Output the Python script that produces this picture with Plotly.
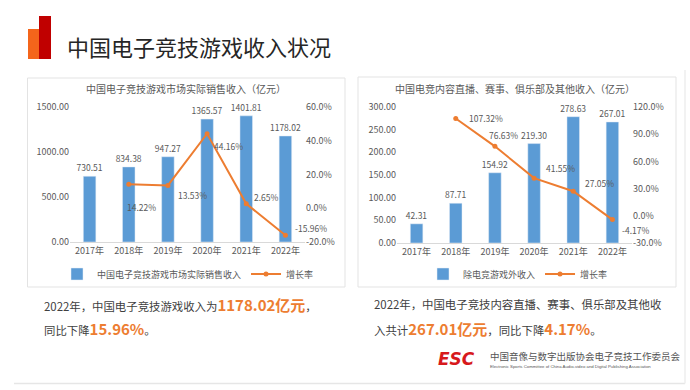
import plotly.graph_objects as go

W, H = 690, 390

# ---------------- data ----------------
years = ["2017年", "2018年", "2019年", "2020年", "2021年", "2022年"]
sales = [730.51, 834.38, 947.27, 1365.57, 1401.81, 1178.02]
sales_growth = [None, 14.22, 13.53, 44.16, 2.65, -15.96]
other = [42.31, 87.71, 154.92, 219.30, 278.63, 267.01]
other_growth = [None, 107.32, 76.63, 41.55, 27.05, -4.17]

left_ticks = [0, 500, 1000, 1500]
left_pct_ticks = [-20, 0, 20, 40, 60]
right_ticks = [0, 50, 100, 150, 200, 250, 300]
right_pct_ticks = [-30, 0, 30, 60, 90, 120]

title_main = "中国电子竞技游戏收入状况"
title_left = "中国电子竞技游戏市场实际销售收入（亿元）"
title_right = "中国电竞内容直播、赛事、俱乐部及其他收入（亿元）"
name_sales = "中国电子竞技游戏市场实际销售收入"
name_other = "除电竞游戏外收入"
name_growth = "增长率"

# ---------------- style ----------------
BLUE = "#5B9BD5"
ORANGE = "#ED7D31"
GRAY = "#595959"
TXT = "#404040"
FONT = "Noto Sans CJK SC"

def px(x):
    return x / W

def py(y):
    return 1 - y / H

def pct(v):
    return f"{v:.1f}%"

# label offsets (xshift, yshift, xanchor) for growth labels
left_offsets = [None, (13, -23, "center"), (8, -10, "left"), (5, -12, "left"), (6, 7, "left"), (8, 7, "left")]
right_offsets = [None, (11, 1, "left"), (-8, 11, "left"), (10, 10, "left"), (10, 8, "left"), (8, -10, "left")]

fig = go.Figure()

fig.add_trace(go.Bar(
    x=years, y=sales, name=name_sales, marker_color=BLUE, width=0.32,
    text=[f"{v:.2f}" for v in sales], textposition="outside", cliponaxis=False,
    constraintext="none",
    textfont=dict(size=8.5, color=GRAY, family=FONT),
    xaxis="x", yaxis="y", legend="legend",
))
fig.add_trace(go.Scatter(
    x=years, y=sales_growth, name=name_growth, mode="lines+markers",
    line=dict(color=ORANGE, width=2), marker=dict(color=ORANGE, size=5),
    xaxis="x", yaxis="y2", legend="legend", cliponaxis=False,
))
fig.add_trace(go.Bar(
    x=years, y=other, name=name_other, marker_color=BLUE, width=0.32,
    text=[f"{v:.2f}" for v in other], textposition="outside", cliponaxis=False,
    constraintext="none",
    textfont=dict(size=8.5, color=GRAY, family=FONT),
    xaxis="x2", yaxis="y3", legend="legend2",
))
fig.add_trace(go.Scatter(
    x=years, y=other_growth, name=name_growth, mode="lines+markers",
    line=dict(color=ORANGE, width=2), marker=dict(color=ORANGE, size=5),
    xaxis="x2", yaxis="y4", legend="legend2", cliponaxis=False,
))

annotations = []
for yr, g, off in zip(years, sales_growth, left_offsets):
    if g is None:
        continue
    annotations.append(dict(x=yr, y=g, xref="x", yref="y2", text=f"{g:.2f}%",
                            showarrow=False, xshift=off[0], yshift=off[1], xanchor=off[2],
                            font=dict(size=8.5, color=GRAY, family=FONT)))
for yr, g, off in zip(years, other_growth, right_offsets):
    if g is None:
        continue
    annotations.append(dict(x=yr, y=g, xref="x2", yref="y4", text=f"{g:.2f}%",
                            showarrow=False, xshift=off[0], yshift=off[1], xanchor=off[2],
                            font=dict(size=8.5, color=GRAY, family=FONT)))

# titles and texts
annotations += [
    dict(x=px(65), y=py(46), xref="paper", yref="paper", text=title_main, showarrow=False,
         xanchor="left", yanchor="middle", font=dict(size=22, color="#262626", family=FONT)),
    dict(x=px(186), y=py(89), xref="paper", yref="paper", text=title_left, showarrow=False,
         xanchor="center", yanchor="middle", font=dict(size=10, color=GRAY, family=FONT)),
    dict(x=px(515), y=py(89), xref="paper", yref="paper", text=title_right, showarrow=False,
         xanchor="center", yanchor="middle", font=dict(size=10, color=GRAY, family=FONT)),
    dict(x=px(42), y=py(304), xref="paper", yref="paper", showarrow=False, xanchor="left", yanchor="middle",
         text=f"2022年，中国电子竞技游戏收入为<span style='color:{ORANGE};font-size:15px'><b>{sales[-1]:.2f}亿元</b></span>，",
         font=dict(size=11.4, color=TXT, family=FONT)),
    dict(x=px(42), y=py(328), xref="paper", yref="paper", showarrow=False, xanchor="left", yanchor="middle",
         text=f"同比下降<span style='color:{ORANGE};font-size:15px'><b>{abs(sales_growth[-1]):.2f}%</b></span>。",
         font=dict(size=11.4, color=TXT, family=FONT)),
    dict(x=px(372), y=py(304), xref="paper", yref="paper", showarrow=False, xanchor="left", yanchor="middle",
         text="2022年，中国电子竞技内容直播、赛事、俱乐部及其他收",
         font=dict(size=11.4, color=TXT, family=FONT)),
    dict(x=px(372), y=py(328), xref="paper", yref="paper", showarrow=False, xanchor="left", yanchor="middle",
         text=f"入共计<span style='color:{ORANGE};font-size:15px'><b>{other[-1]:.2f}亿元</b></span>，同比下降<span style='color:{ORANGE};font-size:15px'><b>{abs(other_growth[-1]):.2f}%</b></span>。",
         font=dict(size=11.4, color=TXT, family=FONT)),
    dict(x=px(436), y=py(359), xref="paper", yref="paper", showarrow=False, xanchor="left", yanchor="middle",
         text="<b><i>ESC</i></b>", font=dict(size=17, color="#D7191C", family="DejaVu Sans")),
    dict(x=px(488), y=py(356), xref="paper", yref="paper", showarrow=False, xanchor="left", yanchor="middle",
         text="中国音像与数字出版协会电子竞技工作委员会", font=dict(size=9.5, color="#555555", family=FONT)),
    dict(x=px(488), y=py(366), xref="paper", yref="paper", showarrow=False, xanchor="left", yanchor="middle",
         text="Electronic Sports Committee of China Audio-video and Digital Publishing Association",
         font=dict(size=4.3, color="#555555", family="Liberation Sans")),
]

shapes = [
    # icon
    dict(type="rect", xref="paper", yref="paper", x0=px(28), x1=px(39), y0=py(59), y1=py(29),
         fillcolor="#F4651B", line=dict(width=0)),
    dict(type="rect", xref="paper", yref="paper", x0=px(39), x1=px(51), y0=py(59), y1=py(16),
         fillcolor="#C00000", line=dict(width=0)),
    # panels
    dict(type="rect", xref="paper", yref="paper", x0=px(27.5), x1=px(345), y0=py(287), y1=py(78),
         line=dict(color="#E3E3E3", width=1), fillcolor="rgba(0,0,0,0)"),
    dict(type="rect", xref="paper", yref="paper", x0=px(358), x1=px(676), y0=py(287), y1=py(77),
         line=dict(color="#E3E3E3", width=1), fillcolor="rgba(0,0,0,0)"),
    # outer card edges
    dict(type="line", xref="paper", yref="paper", x0=px(14), x1=px(685), y0=py(383.5), y1=py(383.5),
         line=dict(color="#E6E6E6", width=1.5)),
    dict(type="line", xref="paper", yref="paper", x0=px(685), x1=px(685), y0=py(383.5), y1=py(70),
         line=dict(color="#EEEEEE", width=1.5)),
]

axis_font = dict(size=9, color=GRAY, family=FONT)

fig.update_layout(
    width=W, height=H, margin=dict(l=0, r=0, t=0, b=0, autoexpand=False),
    paper_bgcolor="white", plot_bgcolor="rgba(0,0,0,0)",
    font=dict(family=FONT, color=GRAY),
    showlegend=True,
    xaxis=dict(domain=[px(70), px(305)], anchor="y", range=[-0.5, 5.5], showgrid=False, showline=True,
               automargin=False, linecolor="#D9D9D9", linewidth=1, ticks="", tickfont=axis_font),
    yaxis=dict(domain=[py(242), py(107)], range=[0, 1500], tickvals=left_ticks, automargin=False,
               ticktext=[f"{v:.2f}" for v in left_ticks],
               showgrid=False, zeroline=False, showline=False, tickfont=axis_font, anchor="x"),
    yaxis2=dict(overlaying="y", side="right", anchor="x", range=[-20, 60], tickvals=left_pct_ticks,
                ticktext=[pct(v) for v in left_pct_ticks], showgrid=False, zeroline=False,
                showline=False, tickfont=axis_font, automargin=False),
    xaxis2=dict(domain=[px(397), px(632)], anchor="y3", range=[-0.5, 5.5], showgrid=False, showline=True,
                automargin=False, linecolor="#D9D9D9", linewidth=1, ticks="", tickfont=axis_font),
    yaxis3=dict(domain=[py(243), py(107)], range=[0, 300], tickvals=right_ticks, automargin=False,
                ticktext=[f"{v:.2f}" for v in right_ticks],
                showgrid=False, zeroline=False, showline=False, tickfont=axis_font, anchor="x2"),
    yaxis4=dict(overlaying="y3", side="right", anchor="x2", range=[-30, 120], tickvals=right_pct_ticks,
                ticktext=[pct(v) for v in right_pct_ticks], showgrid=False, zeroline=False,
                showline=False, tickfont=axis_font, automargin=False),
    legend=dict(orientation="h", x=px(188), y=py(274), xanchor="center", yanchor="middle",
                font=dict(size=9, color=GRAY, family=FONT), bgcolor="rgba(0,0,0,0)",
                itemwidth=30, tracegroupgap=0),
    legend2=dict(orientation="h", x=px(518), y=py(274), xanchor="center", yanchor="middle",
                 font=dict(size=9, color=GRAY, family=FONT), bgcolor="rgba(0,0,0,0)",
                 itemwidth=30, tracegroupgap=0),
    annotations=annotations,
    shapes=shapes,
    bargap=0.66,
)

fig.write_html("out.html", config={"displayModeBar": False},
               post_script="document.body.style.margin='0';document.body.style.overflow='hidden';")
